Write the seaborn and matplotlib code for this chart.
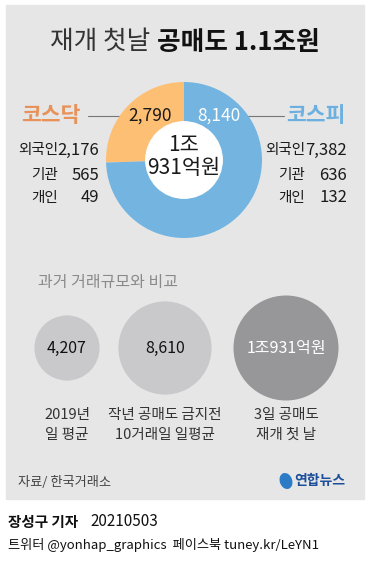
import matplotlib
matplotlib.use("Agg")
import matplotlib.pyplot as plt
from matplotlib.patches import Rectangle, Circle, Ellipse
import seaborn as sns
import pandas as pd

# ---------------- data ----------------
title_light = "재개 첫날"
title_bold = "공매도 1.1조원"
market_names = ["코스닥", "코스피"]
market_totals = [2790, 8140]
investor_labels = ["외국인", "기관", "개인"]
kosdaq_investors = [2176, 565, 49]
kospi_investors = [7382, 636, 132]
total_text = ["1조", "931억원"]
compare_title = "과거 거래규모와 비교"
compare_labels = ["2019년\n일 평균", "작년 공매도 금지전\n10거래일 일평균", "3일 공매도\n재개 첫 날"]
compare_values = [4207, 8610, 10931]
compare_texts = ["4,207", "8,610", "1조931억원"]
source_text = "자료/ 한국거래소"
author_text = "장성구 기자"
date_text = "20210503"
sns_text = "트위터 @yonhap_graphics  페이스북 tuney.kr/LeYN1"

# ---------------- style ----------------
sns.set_style("white")
plt.rcParams['font.family'] = ['Noto Sans CJK KR', 'DejaVu Sans']

PANEL = '#E6E6E7'
ORANGE = '#FDBF74'
BLUE = '#73B4E0'
ORANGE_TXT = '#E8925A'
BLUE_TXT = '#6DB0E0'
DARK = '#1A1A1A'

W, H = 370, 566
fig = plt.figure(figsize=(3.7, 5.66), dpi=100)
fig.patch.set_facecolor('white')
ax = fig.add_axes([0, 0, 1, 1])
ax.axis('off')

ax.add_patch(Rectangle((6, 5), 358, 494, color=PANEL, zorder=0))

# title
ax.text(150, 42, title_light, ha='right', va='center', fontsize=18.5, color='#333333')
ax.text(157, 42, title_bold, ha='left', va='center', fontsize=18.5, fontweight='bold', color='#111111')

# ---------------- donut ----------------
cx, cy, r = 184, 160, 78
pax = fig.add_axes([(cx - r) / W, 1 - (cy + r) / H, 2 * r / W, 2 * r / H])
pax.pie(market_totals, colors=[ORANGE, BLUE], startangle=90, counterclock=True,
        radius=1, wedgeprops=dict(width=0.51, linewidth=0))
pax.add_patch(Circle((0, 0), 0.49, color='white', zorder=3))
pax.set_xlim(-1, 1); pax.set_ylim(-1, 1); pax.set_aspect('equal'); pax.axis('off')


def fx(x):
    return x / W


def fy(y):
    return 1 - y / H


# donut labels (figure-level so they sit above the donut axes)
fig.text(fx(150), fy(116), f"{market_totals[0]:,}", ha='center', va='center', fontsize=12.5, color=DARK, zorder=10)
fig.text(fx(219), fy(116), f"{market_totals[1]:,}", ha='center', va='center', fontsize=12.5, color='white', zorder=10)
ax.plot([88, 128], [116, 116], color='#777777', lw=0.8)
ax.plot([247, 284], [116, 116], color='#777777', lw=0.8)
ax.text(51, 115, market_names[0], ha='center', va='center', fontsize=15.5, fontweight='bold', color=ORANGE_TXT)
ax.text(316, 115, market_names[1], ha='center', va='center', fontsize=15.5, fontweight='bold', color=BLUE_TXT)

fig.text(fx(cx), fy(145), total_text[0], ha='center', va='center', fontsize=15, color=DARK, zorder=10)
fig.text(fx(cx), fy(168), total_text[1], ha='center', va='center', fontsize=15, color=DARK, zorder=10)

row_y = [150, 175, 198]
for lab, v1, v2, yy in zip(investor_labels, kosdaq_investors, kospi_investors, row_y):
    ax.text(58, yy, lab, ha='right', va='center', fontsize=10.5, color=DARK)
    ax.text(99, yy, f"{v1:,}", ha='right', va='center', fontsize=12, color=DARK)
    ax.text(305, yy, lab, ha='right', va='center', fontsize=10.5, color=DARK)
    ax.text(347, yy, f"{v2:,}", ha='right', va='center', fontsize=12, color=DARK)

# ---------------- comparison circles ----------------
ax.text(38, 282, compare_title, ha='left', va='center', fontsize=11.5, color='#8A8A8A')
circle_x = [67, 165, 286]
circle_y = 348
k = 0.5229
df = pd.DataFrame({'x': circle_x, 'y': [circle_y] * 3, 'value': compare_values,
                   'kind': ['past', 'past', 'now']})
sns.scatterplot(data=df, x='x', y='y', size='value',
                sizes=(min(compare_values) * k, max(compare_values) * k),
                hue='kind', palette={'past': '#C9C9CB', 'now': '#979799'},
                legend=False, linewidth=0, ax=ax, zorder=2)
for xx, t, lab, i in zip(circle_x, compare_texts, compare_labels, range(3)):
    ax.text(xx, circle_y, t, ha='center', va='center', fontsize=11.5,
            color='white' if i == 2 else '#111111', zorder=4)
    ax.text(xx, 425, lab, ha='center', va='center', fontsize=10.5, color='#333333',
            linespacing=1.5)

# ---------------- footer ----------------
ax.text(18, 482, source_text, ha='left', va='center', fontsize=9.5, color='#444444')
ax.add_patch(Ellipse((286, 481), 11, 15, angle=-20, color='#2B7BC7', zorder=3))
ax.text(294, 481, "연합뉴스", ha='left', va='center', fontsize=10, fontweight='bold', color='#1C4E9A')
ax.text(8, 522, author_text, ha='left', va='center', fontsize=10.5, fontweight='bold', color='#111111')
ax.text(90, 522, date_text, ha='left', va='center', fontsize=11, color='#111111')
ax.text(8, 545, sns_text, ha='left', va='center', fontsize=9.5, color='#111111')

ax.set_xlim(0, W)
ax.set_ylim(H, 0)
ax.axis('off')

fig.savefig('out.png', dpi=100, facecolor='white')
